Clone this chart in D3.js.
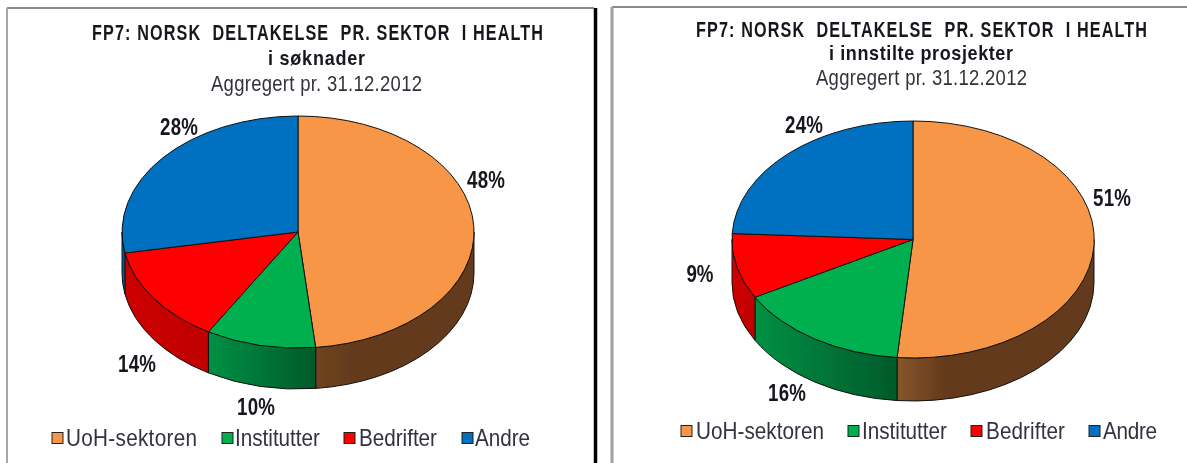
<!DOCTYPE html>
<html>
<head>
<meta charset="utf-8">
<script src="https://cdn.jsdelivr.net/npm/d3@7"></script>
<style>
html, body { margin: 0; padding: 0; background: #fff; overflow: hidden; }
svg { display: block; }
text { font-family: "Liberation Sans", sans-serif; fill: #1f1f28; white-space: pre; }
</style>
</head>
<body>
<div id="chart"></div>
<script>
var categories = ["UoH-sektoren", "Institutter", "Bedrifter", "Andre"];
var soknader = [48.4, 10.1, 13.6, 27.9];
var innstilte = [51.4, 15.5, 8.9, 24.2];
var title = "FP7: NORSK  DELTAKELSE  PR. SEKTOR  I HEALTH";
var subtitle_left = "i søknader";
var subtitle_right = "i innstilte prosjekter";
var dateline = "Aggregert pr. 31.12.2012";

var dims = { width: 1187, height: 463 };

var color = d3.scaleOrdinal().domain(categories)
    .range(["#f79646", "#00b050", "#ff0000", "#0070c0"]);
// left/right stops of the shaded pie wall
var wall = d3.scaleOrdinal().domain(categories)
    .range([["#85562a", "#633a1c"], ["#009044", "#005a2a"], ["#cc0000", "#c00000"], ["#0060a8", "#00508c"]]);

var panels = [
    {
        values: soknader, subtitle: subtitle_left,
        cx: 298, cy: 232, rx: 176, ry: 116, depth: 41, wall_light: "#6f4420",
        title: { x: 92, y: 40, w: 451 },
        sub: { x: 268, y: 65, w: 97 },
        date: { x: 211, y: 91, w: 211 },
        labels: [[179, 126], [486, 179], [137, 363], [256, 406]],
        legend: { y: 438, box: [52, 222, 344, 462], text: [66, 235, 359, 475], w: [131, 85, 78, 55] }
    },
    {
        values: innstilte, subtitle: subtitle_right,
        cx: 913, cy: 239.5, rx: 181, ry: 118.5, depth: 43, wall_light: "#85562a",
        title: { x: 696, y: 37, w: 451 },
        sub: { x: 829, y: 60, w: 184 },
        date: { x: 816, y: 85, w: 211 },
        labels: [[804, 124], [1112, 197], [700, 273], [787, 392]],
        legend: { y: 431, box: [681, 848, 971, 1089], text: [696, 862, 986, 1103], w: [128, 85, 79, 54] }
    }
];
// label spots above are listed clockwise from the blue slice
var label_slot = [1, 3, 2, 0];

var svg = d3.select('#chart')
    .append('svg')
    .attr('width', dims.width)
    .attr('height', dims.height);

var defs = svg.append('defs');
defs.append('filter').attr('id', 'soft')
    .append('feGaussianBlur').attr('stdDeviation', 0.55);

var root = svg.append('g').attr('filter', 'url(#soft)');

// frames of the two pasted charts
var frames = [
    [7, 8, 594, 8, '#8a8a8a', 2], [7, 8, 7, 463, '#a8a8a8', 2],
    [595.5, 8, 595.5, 463, '#000', 3.5],
    [612, 7, 1187, 7, '#8a8a8a', 2], [612, 7, 612, 463, '#a0a0a0', 3]
];
root.selectAll('line.frame').data(frames).enter().append('line')
    .attr('class', 'frame')
    .attr('x1', function(d){ return d[0]; })
    .attr('y1', function(d){ return d[1]; })
    .attr('x2', function(d){ return d[2]; })
    .attr('y2', function(d){ return d[3]; })
    .attr('stroke', function(d){ return d[4]; })
    .attr('stroke-width', function(d){ return d[5]; });

var pie = d3.pie().sort(null);
var fmt = function(v){ return Math.round(v) + '%'; };

// the source font is a narrow one, so squeeze Liberation Sans sideways
function narrow(parent, str, x, y, w, size, sx, bold, fill){
    return parent.append('text')
        .attr('transform', 'translate(' + x + ',' + y + ') scale(' + sx + ',1)')
        .attr('textLength', w / sx)
        .attr('lengthAdjust', 'spacing')
        .attr('font-size', size)
        .attr('font-weight', bold ? 'bold' : 'normal')
        .style('fill', fill)
        .text(str);
}

panels.forEach(function(p, pi){
    var g = root.append('g');
    var arcs = pie(p.values);

    function pt(a, dy){
        return [p.cx + p.rx * Math.sin(a), p.cy - p.ry * Math.cos(a) + (dy || 0)];
    }
    function ellipse(a0, a1, dy, sweep){
        var to = pt(a1, dy);
        var big = Math.abs(a1 - a0) > Math.PI ? 1 : 0;
        return 'A' + p.rx + ',' + p.ry + ' 0 ' + big + ' ' + sweep + ' ' + to[0] + ',' + to[1];
    }

    // wall: only the part of each slice facing the viewer
    arcs.forEach(function(d, i){
        var a0 = Math.max(d.startAngle, Math.PI / 2);
        var a1 = Math.min(d.endAngle, Math.PI * 1.5);
        if(a1 <= a0) return;
        var id = 'wall' + pi + '_' + i;
        var stops = wall(categories[i]);
        var grad = defs.append('linearGradient').attr('id', id)
            .attr('gradientUnits', 'userSpaceOnUse')
            .attr('x1', Math.min(pt(a0)[0], pt(a1)[0]))
            .attr('x2', Math.max(pt(a0)[0], pt(a1)[0]))
            .attr('y1', 0).attr('y2', 0);
        // the orange wall is only light close to the green one
        grad.append('stop').attr('offset', 0).attr('stop-color', i === 0 ? p.wall_light : stops[0]);
        grad.append('stop').attr('offset', i === 0 ? 0.25 : 1).attr('stop-color', stops[1]);
        var start = pt(a0), end = pt(a1);
        var dd = 'M' + start[0] + ',' + start[1]
            + ellipse(a0, a1, 0, 1)
            + 'L' + end[0] + ',' + (end[1] + p.depth)
            + ellipse(a1, a0, p.depth, 0)
            + 'Z';
        g.append('path').attr('d', dd)
            .attr('fill', 'url(#' + id + ')')
            .attr('stroke', '#111')
            .attr('stroke-width', 1);
    });

    // top face
    var unit = d3.arc().innerRadius(0).outerRadius(1);
    g.selectAll('path.slice').data(arcs).enter().append('path')
        .attr('class', 'slice')
        .attr('d', unit)
        .attr('transform', 'translate(' + p.cx + ',' + p.cy + ') scale(' + p.rx + ',' + p.ry + ')')
        .attr('vector-effect', 'non-scaling-stroke')
        .attr('fill', function(d, i){ return color(categories[i]); })
        .attr('stroke', '#111')
        .attr('stroke-width', 1);

    // headings
    narrow(g, title, p.title.x, p.title.y, p.title.w, 22.5, 0.72, true, '#15151e');
    narrow(g, p.subtitle, p.sub.x, p.sub.y, p.sub.w, 20, 0.9, true, '#15151e');
    narrow(g, dateline, p.date.x, p.date.y, p.date.w, 22, 0.84, false, '#33333c');

    // percent labels
    arcs.forEach(function(d, i){
        var txt = fmt(d.value);
        var w = txt.length > 2 ? 38 : 27;
        var spot = p.labels[label_slot[i]];
        narrow(g, txt, spot[0] - w / 2, spot[1] + 8.5, w, 24, 0.78, true, '#15151e');
    });

    // legend
    categories.forEach(function(c, i){
        g.append('rect')
            .attr('x', p.legend.box[i])
            .attr('y', p.legend.y - 5.5)
            .attr('width', 11).attr('height', 11)
            .attr('fill', color(c))
            .attr('stroke', '#222').attr('stroke-width', 1);
        narrow(g, c, p.legend.text[i], p.legend.y + 8, p.legend.w[i], 23, 0.9, false, '#33333f');
    });
});
</script>
</body>
</html>
